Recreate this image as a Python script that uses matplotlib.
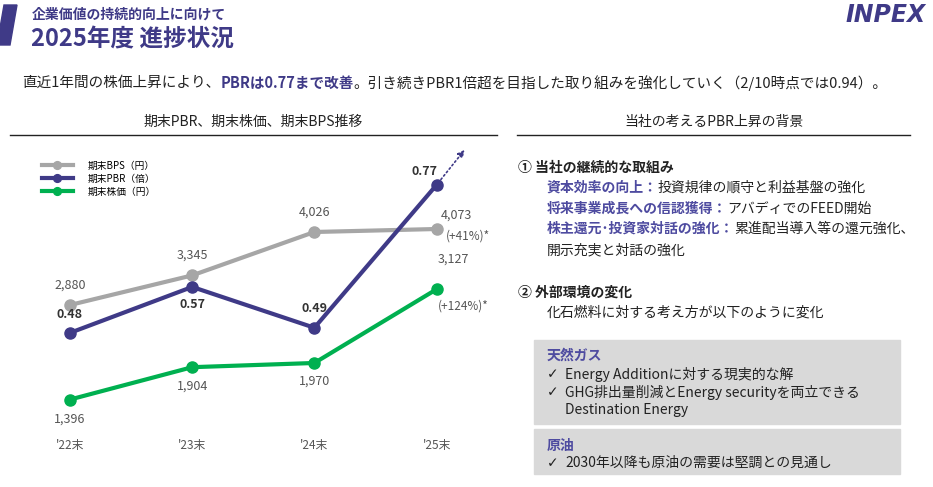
import matplotlib.pyplot as plt
from matplotlib.patches import Polygon, Rectangle
from matplotlib.transforms import offset_copy

plt.rcParams['font.family'] = ['Noto Sans CJK JP', 'DejaVu Sans']

W, H = 933, 487

# chart data
years = ["'22末", "'23末", "'24末", "'25末"]
bps = [2880, 3345, 4026, 4073]
price = [1396, 1904, 1970, 3127]
pbr = [0.48, 0.57, 0.49, 0.77]

PURPLE = '#3F3A87'
LABEL = '#4E4BA0'
GRAY = '#A6A6A6'
GREEN = '#00B050'

fig = plt.figure(figsize=(W / 100, H / 100), dpi=100)


def px(x, y):
    return x / W, 1 - y / H


def txt(x, y, s, **kw):
    kw.setdefault('va', 'center')
    return fig.text(*px(x, y), s, **kw)


def chain(x, y, parts, size):
    # draw text pieces one after another on one line
    r = fig.canvas.get_renderer()
    for s, color, weight in parts:
        t = txt(x, y, s, fontsize=size, color=color, fontweight=weight)
        x += t.get_window_extent(r).width


# header
fig.patches.append(Polygon([px(4, 5), px(17, 5), px(10, 45), px(-3, 45)], closed=True,
                           transform=fig.transFigure, color=PURPLE))
txt(32, 15, '企業価値の持続的向上に向けて', fontsize=10, color=PURPLE, fontweight='bold')
txt(31, 39, '2025年度 進捗状況', fontsize=17, color=PURPLE, fontweight='bold')
txt(926, 15, 'INPEX', fontsize=17, color=PURPLE, fontweight='heavy', style='italic',
    ha='right', family=['DejaVu Sans'])

chain(22, 83, [('直近1年間の株価上昇により、', '#222222', 'normal'),
               ('PBRは0.77まで改善', PURPLE, 'bold'),
               ('。引き続きPBR1倍超を目指した取り組みを強化していく（2/10時点では0.94）。', '#222222', 'normal')],
      10.5)

# section headers
txt(253, 122, '期末PBR、期末株価、期末BPS推移', fontsize=10, ha='center', color='#222222')
txt(714, 122, '当社の考えるPBR上昇の背景', fontsize=10, ha='center', color='#222222')
for x0, x1 in [(10, 497), (517, 910)]:
    fig.add_artist(plt.Line2D([x0 / W, x1 / W], [1 - 135 / H] * 2, color='#222222', lw=1))

# chart axes
ax = fig.add_axes([10 / W, 47 / H, 490 / W, 300 / H])
ax.set_xlim(-0.491, 3.519)
ax.set_ylim(761, 5470)
ax.axis('off')
ax2 = ax.twinx()
ax2.set_ylim(0.270, 0.858)
ax2.axis('off')

xs = range(len(years))
ax.plot(xs, bps, color=GRAY, lw=3, marker='o', ms=8, label='期末BPS（円）')
ax.plot(xs, price, color=GREEN, lw=3, marker='o', ms=8, label='期末株価（円）')
ax2.plot(xs, pbr, color=PURPLE, lw=3, marker='o', ms=8, label='期末PBR（倍）')

tip = offset_copy(ax2.transData, fig=fig, x=28, y=35, units='dots')
ax2.annotate('', xy=(xs[-1], pbr[-1]), xycoords=tip, xytext=(xs[-1], pbr[-1]),
             textcoords='data',
             arrowprops=dict(arrowstyle='-|>', ls=':', color=PURPLE, lw=1.2,
                             shrinkA=5, shrinkB=0))

tc = '#555555'


def lab(a, s, xy, off, **kw):
    a.annotate(s, xy, xytext=off, textcoords='offset pixels',
               ha='center', va='center', fontsize=kw.pop('fontsize', 9),
               color=kw.pop('color', tc), **kw)


bps_off = [(0, 20), (0, 20), (0, 20), (20, 14)]
for i, v in enumerate(bps):
    lab(ax, f'{v:,}', (i, v), bps_off[i])
price_off = [(0, -20), (0, -19), (0, -18), (17, 30)]
for i, v in enumerate(price):
    lab(ax, f'{v:,}', (i, v), price_off[i])
pbr_off = [(0, 18), (0, -18), (0, 19), (-12, 13)]
for i, v in enumerate(pbr):
    lab(ax2, f'{v:.2f}', (i, v), pbr_off[i], color='#333333', fontweight='bold')
lab(ax, '(+41%)*', (3, bps[3]), (31, -7), fontsize=8.5)
lab(ax, '(+124%)*', (3, price[3]), (27, -17), fontsize=8.5)
for i, s in enumerate(years):
    lab(ax, s, (i, 761), (0, -5), fontsize=8.5)

# legend
h1, l1 = ax.get_legend_handles_labels()
h2, l2 = ax2.get_legend_handles_labels()
fig.legend([h1[0], h2[0], h1[1]], [l1[0], l2[0], l1[1]], loc='upper left',
           bbox_to_anchor=px(33, 152), frameon=False, fontsize=7,
           handlelength=3.2, handletextpad=1.5, labelspacing=0.3, markerscale=0.7)

# right panel
black = '#222222'
txt(518, 168, '① 当社の継続的な取組み', fontsize=10, fontweight='bold', color=black)
chain(547, 188, [('資本効率の向上：', LABEL, 'bold'), ('投資規律の順守と利益基盤の強化', black, 'normal')], 10)
chain(547, 209, [('将来事業成長への信認獲得：', LABEL, 'bold'), ('アバディでのFEED開始', black, 'normal')], 10)
chain(547, 229, [('株主還元･投資家対話の強化：', LABEL, 'bold'), ('累進配当導入等の還元強化、', black, 'normal')], 10)
txt(547, 250, '開示充実と対話の強化', fontsize=10, color=black)
txt(518, 293, '② 外部環境の変化', fontsize=10, fontweight='bold', color=black)
txt(547, 313, '化石燃料に対する考え方が以下のように変化', fontsize=10, color=black)

for y0, y1 in [(340, 424), (429, 474)]:
    fig.patches.append(Rectangle(px(534, y1), (900 - 534) / W, (y1 - y0) / H,
                                 transform=fig.transFigure, color='#D9D9D9'))
txt(547, 356, '天然ガス', fontsize=10, fontweight='bold', color=LABEL)
txt(547, 374, '✓', fontsize=10, color=black, family=['DejaVu Sans'])
txt(565, 374, 'Energy Additionに対する現実的な解', fontsize=10, color=black)
txt(547, 392, '✓', fontsize=10, color=black, family=['DejaVu Sans'])
txt(565, 392, 'GHG排出量削減とEnergy securityを両立できる', fontsize=10, color=black)
txt(565, 410, 'Destination Energy', fontsize=10, color=black)
txt(547, 446, '原油', fontsize=10, fontweight='bold', color=LABEL)
txt(547, 463, '✓', fontsize=10, color=black, family=['DejaVu Sans'])
txt(565, 463, '2030年以降も原油の需要は堅調との見通し', fontsize=10, color=black)

fig.savefig('out.png', dpi=100)
